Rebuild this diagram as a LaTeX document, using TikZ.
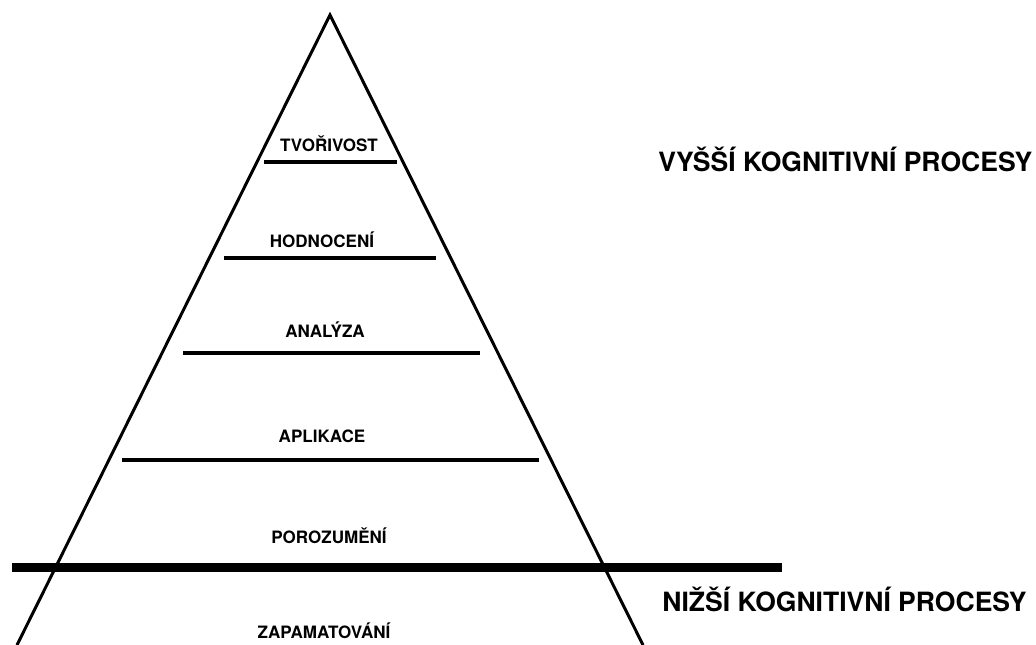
\documentclass[tikz,border=0pt]{standalone}
\usepackage{fontspec}
\setmainfont{TeX Gyre Heros}

\begin{document}
\begin{tikzpicture}[x=0.02cm, y=-0.02cm, line cap=butt]
		\tikzset{level/.style={inner sep=0pt, anchor=base, font=\bfseries\fontsize{9.7}{11}\selectfont},
		         group/.style={inner sep=0pt, anchor=base west, font=\bfseries\fontsize{15.1}{17}\selectfont},
		         side/.style={draw=black, line width=1.7pt},
		         rung/.style={draw=black, line width=2.3pt},
		         divider/.style={draw=black, line width=5.1pt}}
		\useasboundingbox (0, 0) rectangle (1036, 645);
		
		% pyramid
		\coordinate (top) at (330, 15);
		\coordinate (bl) at (17, 645);
		\coordinate (br) at (643, 645);
		\path[side] (bl) -- (top) -- (br);
		
		% levels
		\node[level] at (329, 152) (tvo) {TVOŘIVOST};
		\node[level] at (322, 248) (hod) {HODNOCENÍ};
		\node[level] at (325, 338) (ana) {ANALÝZA};
		\node[level] at (322, 443) (apl) {APLIKACE};
		\node[level] at (329, 544) (por) {POROZUMĚNÍ};
		\node[level] at (324, 639) (zap) {ZAPAMATOVÁNÍ};
		
		\coordinate (tvoL) at (264, 162); \coordinate (tvoR) at (397, 162);
		\coordinate (hodL) at (224, 258); \coordinate (hodR) at (436, 258);
		\coordinate (anaL) at (183, 353); \coordinate (anaR) at (480, 353);
		\coordinate (aplL) at (122, 460); \coordinate (aplR) at (539, 460);
		\path[rung] (tvoL) -- (tvoR);
		\path[rung] (hodL) -- (hodR);
		\path[rung] (anaL) -- (anaR);
		\path[rung] (aplL) -- (aplR);
		
		% split between higher and lower
		\coordinate (divL) at (12, 567.5);
		\coordinate (divR) at (782, 567.5);
		\path[divider] (divL) -- (divR);
		
		\node[group] at (658, 172) (high) {VYŠŠÍ KOGNITIVNÍ PROCESY};
		\node[group] at (662, 612) (low) {NIŽŠÍ KOGNITIVNÍ PROCESY};
	\end{tikzpicture}
\end{document}
